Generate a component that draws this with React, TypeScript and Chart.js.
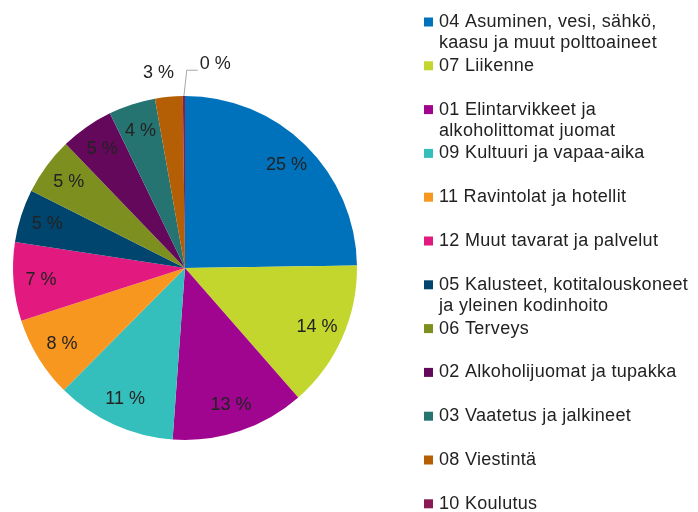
import React, { useEffect, useRef } from "react";
import { Chart, registerables } from "chart.js";

Chart.register(...registerables);

const categories = [
  "04 Asuminen, vesi, sähkö,\nkaasu ja muut polttoaineet",
  "07 Liikenne",
  "01 Elintarvikkeet ja\nalkoholittomat juomat",
  "09 Kultuuri ja vapaa-aika",
  "11 Ravintolat ja hotellit",
  "12 Muut tavarat ja palvelut",
  "05 Kalusteet, kotitalouskoneet\nja yleinen kodinhoito",
  "06 Terveys",
  "02 Alkoholijuomat ja tupakka",
  "03 Vaatetus ja jalkineet",
  "08 Viestintä",
  "10 Koulutus",
];

const values = [24.8, 13.8, 12.6, 11.3, 7.6, 7.4, 5.0, 5.4, 5.0, 4.4, 2.6, 0.2];

const colors = [
  "#0072BB",
  "#C3D62E",
  "#A0058F",
  "#35BFBC",
  "#F8971F",
  "#E2197E",
  "#00456E",
  "#7D901F",
  "#63085A",
  "#267472",
  "#B45F06",
  "#8A1A55",
];

const FONT = "18px 'Liberation Sans', Arial, sans-serif";
const TEXT_COLOR = "#222222";

const sliceLabels = {
  id: "sliceLabels",
  afterDatasetsDraw(chart: any) {
    const ctx = chart.ctx;
    const meta = chart.getDatasetMeta(0);
    const total = values.reduce((a, b) => a + b, 0);
    ctx.save();
    ctx.font = FONT;
    ctx.fillStyle = TEXT_COLOR;
    ctx.textAlign = "center";
    ctx.textBaseline = "middle";
    meta.data.forEach((arc: any, i: number) => {
      const p = arc.getProps(["x", "y", "startAngle", "endAngle", "outerRadius"], true);
      const mid = (p.startAngle + p.endAngle) / 2;
      const share = values[i] / total;
      const txt = Math.round(share * 100) + " %";
      const cx = Math.cos(mid);
      const cy = Math.sin(mid);
      if (share > 0.03) {
        const d = p.outerRadius * 0.84;
        ctx.fillText(txt, p.x + cx * d, p.y + cy * d);
      } else if (share > 0.01) {
        const d = p.outerRadius * 1.14;
        ctx.fillText(txt, p.x + cx * d - 8, p.y + cy * d);
      } else {
        const sx = p.x + cx * p.outerRadius;
        const sy = p.y + cy * p.outerRadius;
        const ex = p.x + cx * p.outerRadius * 1.15 + 3;
        const ey = p.y + cy * p.outerRadius * 1.15;
        ctx.strokeStyle = "#a6a6a6";
        ctx.lineWidth = 1;
        ctx.beginPath();
        ctx.moveTo(sx, sy);
        ctx.lineTo(ex, ey);
        ctx.lineTo(ex + 11, ey);
        ctx.stroke();
        ctx.textAlign = "left";
        ctx.fillText(txt, ex + 13, ey - 6);
        ctx.textAlign = "center";
      }
    });
    ctx.restore();
  },
};

const sideLegend = {
  id: "sideLegend",
  afterDraw(chart: any) {
    const ctx = chart.ctx;
    ctx.save();
    ctx.font = FONT;
    ctx.textBaseline = "middle";
    ctx.textAlign = "left";
    if ("letterSpacing" in ctx) (ctx as any).letterSpacing = "0.3px";
    categories.forEach((name, i) => {
      const y = 22 + 43.8 * i;
      ctx.fillStyle = colors[i];
      ctx.fillRect(424, y - 4.5, 9, 9);
      ctx.fillStyle = TEXT_COLOR;
      name.split("\n").forEach((line, j) => {
        ctx.fillText(line, 439, y + j * 21);
      });
    });
    ctx.restore();
  },
};

export default function App() {
  const ref = useRef<HTMLCanvasElement>(null);
  useEffect(() => {
    document.body.style.margin = "0";
    const chart = new Chart(ref.current as HTMLCanvasElement, {
      type: "pie",
      data: {
        labels: categories,
        datasets: [
          {
            data: values,
            backgroundColor: colors,
            borderWidth: 0,
          },
        ],
      },
      options: {
        responsive: false,
        animation: false,
        devicePixelRatio: 1,
        layout: { padding: { left: 13, right: 341, top: 96, bottom: 72 } },
        plugins: {
          legend: { display: false },
          tooltip: { enabled: false },
        },
      },
      plugins: [sliceLabels, sideLegend],
    });
    return () => chart.destroy();
  }, []);
  return (
    <div style={{ width: 698, height: 512, background: "#fff" }}>
      <canvas ref={ref} width={698} height={512} />
    </div>
  );
}
